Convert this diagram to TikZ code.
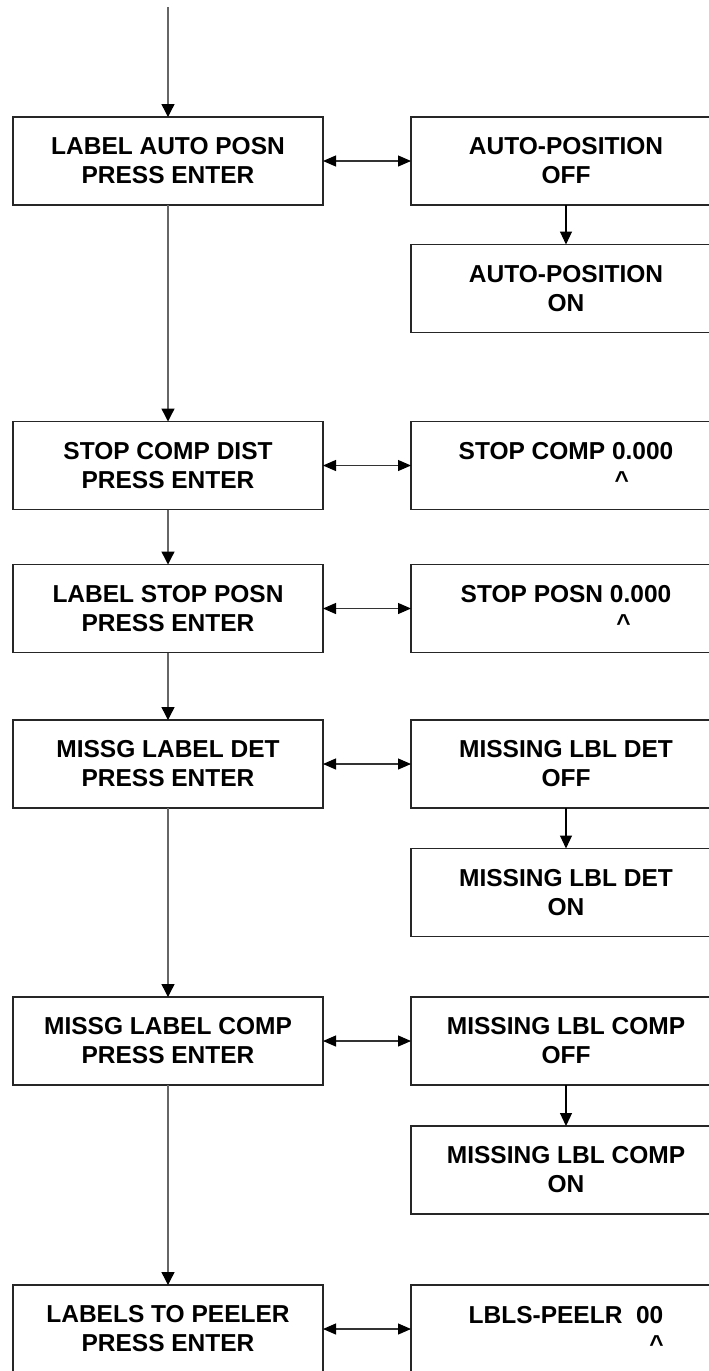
\documentclass[tikz,border=0pt]{standalone}
\usepackage{fontspec}
\setmainfont{Liberation Sans}
\usetikzlibrary{arrows.meta}
\newsavebox\mycbox
\newcommand\caretunder[1]{\sbox\mycbox{#1}\makebox[\wd\mycbox]{\textasciicircum}}
\begin{document}
\begin{tikzpicture}[x=1pt,y=1pt,
  box/.style={draw=black!85, line width=1.3pt, minimum width=310pt, minimum height=88pt,
    inner sep=0pt, outer sep=0pt, align=center,
    font=\fontsize{24.5}{29}\selectfont\bfseries},
  flow/.style={draw=black!60, line width=1.4pt, -{Triangle[length=13pt,width=13pt,color=black]}},
  sub/.style={draw=black, line width=1.1pt, -{Triangle[length=13pt,width=12pt]}},
  link/.style={draw=black!80, line width=1.1pt,
    {Triangle[length=13pt,width=11pt,color=black]}-{Triangle[length=13pt,width=11pt,color=black]}}]
\clip (0,0) rectangle (709,-1371);
\fill[white] (0,0) rectangle (709,-1371);

% left column
\node[box] (b1) at (168,-161) {LABEL AUTO POSN\\PRESS ENTER};
\node[box] (b2) at (168,-465.5) {STOP COMP DIST\\PRESS ENTER};
\node[box] (b3) at (168,-608.5) {LABEL STOP POSN\\PRESS ENTER};
\node[box] (b4) at (168,-764) {MISSG LABEL DET\\PRESS ENTER};
\node[box] (b5) at (168,-1041) {MISSG LABEL COMP\\PRESS ENTER};
\node[box] (b6) at (168,-1329) {LABELS TO PEELER\\PRESS ENTER};

% right column
\node[box] (r1a) at (566,-161) {AUTO-POSITION\\OFF};
\node[box] (r1b) at (566,-288.5) {AUTO-POSITION\\ON};
\node[box] (r2) at (566,-465.5) {STOP COMP 0.000\\\hphantom{STOP COMP }\hspace{3pt}\caretunder{0}\hspace{-3pt}\hphantom{.000}};
\node[box] (r3) at (566,-608.5) {STOP POSN 0.000\\\hphantom{STOP POSN 0}\makebox[0pt]{\textasciicircum}\hphantom{.000}};
\node[box] (r4a) at (566,-764) {MISSING LBL DET\\OFF};
\node[box] (r4b) at (566,-892.5) {MISSING LBL DET\\ON};
\node[box] (r5a) at (566,-1041) {MISSING LBL COMP\\OFF};
\node[box] (r5b) at (566,-1170) {MISSING LBL COMP\\ON};
\node[box] (r6) at (566,-1329) {LBLS-PEELR\ \ 00\\\hphantom{LBLS-PEELR\ \ 0}\caretunder{0}};

% connectors
\coordinate (start) at (168,-7);
\draw[flow] (start) -- (b1);
\draw[flow] (b1) -- (b2);
\draw[flow] (b2) -- (b3);
\draw[flow] (b3) -- (b4);
\draw[flow] (b4) -- (b5);
\draw[flow] (b5) -- (b6);

\draw[sub] (r1a) -- (r1b);
\draw[sub] (r4a) -- (r4b);
\draw[sub] (r5a) -- (r5b);

\draw[link] (b1) -- (r1a);
\draw[link] (b2) -- (r2);
\draw[link] (b3) -- (r3);
\draw[link] (b4) -- (r4a);
\draw[link] (b5) -- (r5a);
\draw[link] (b6) -- (r6);
\end{tikzpicture}
\end{document}
